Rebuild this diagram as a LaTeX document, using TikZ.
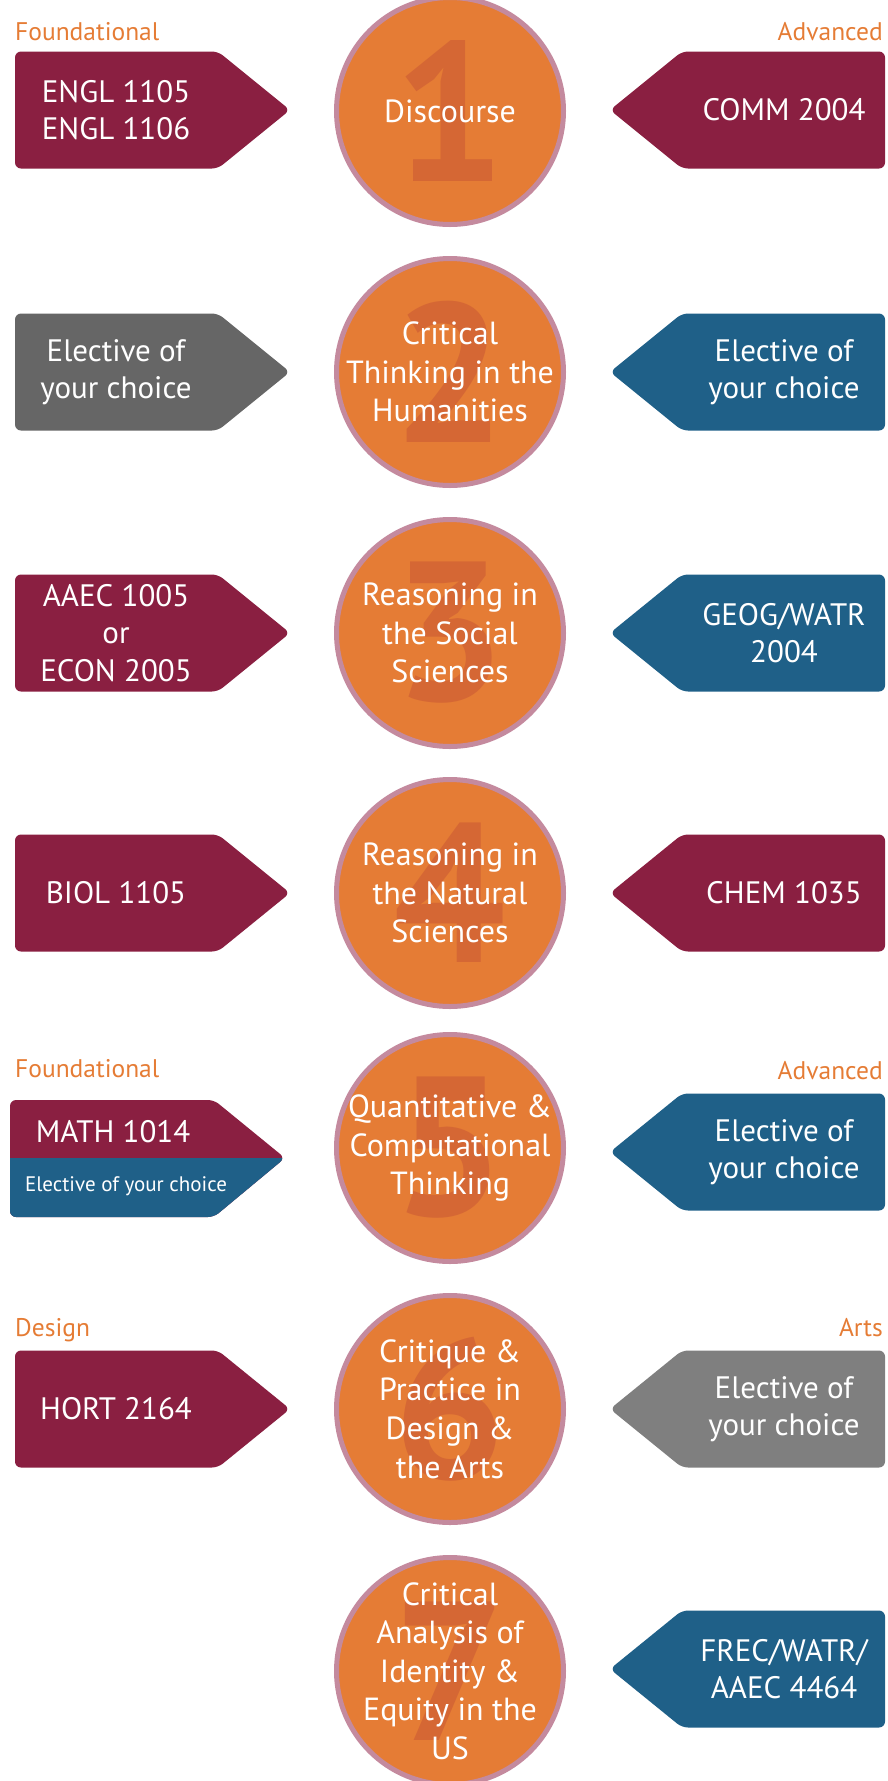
\documentclass[tikz,border=0pt]{standalone}
\usepackage{fontspec}
\setmainfont{PT Sans}

\definecolor{vtorange}{HTML}{E57C35}
\definecolor{vtring}{HTML}{C48A9E}
\definecolor{vtdigit}{HTML}{D56734}
\definecolor{vtmaroon}{HTML}{8A1F41}
\definecolor{vtblue}{HTML}{1F6088}
\definecolor{vtgray}{HTML}{666666}
\definecolor{vtlgray}{HTML}{7F7F7F}

\tikzstyle{area}=[circle, fill=vtorange, draw=vtring, line width=5pt, minimum size=227pt, inner sep=0pt]
\tikzstyle{digit}=[text=vtdigit, font=\fontsize{198}{198}\selectfont\bfseries, inner sep=0pt]
\tikzstyle{area text}=[text=white, align=center, font=\fontsize{32}{38.6}\selectfont, inner sep=0pt]
\tikzstyle{course}=[text=white, align=center, font=\fontsize{31}{37.5}\selectfont, inner sep=0pt]
\tikzstyle{level}=[text=vtorange, font=\fontsize{25.5}{28}\selectfont, inner sep=0pt]

\begin{document}
\begin{tikzpicture}[x=1pt, y=-1pt]
    \useasboundingbox (0,0) rectangle (887,1781);
        % the seven areas
        \foreach \y/\n/\txt in {111/1/{Discourse}, 372/2/{Critical\\Thinking in the\\Humanities},
                633/3/{Reasoning in\\the Social\\Sciences}, 893/4/{Reasoning in\\the Natural\\Sciences},
                1148/5/{Quantitative \&\\Computational\\Thinking}, 1409/6/{Critique \&\\Practice in\\Design \&\\the Arts},
                1671/7/{Critical\\Analysis of\\Identity \&\\Equity in the\\US}}
        {
            \node[area] (area\n) at (450,\y) {};
            \node[digit] (num\n) at (area\n) {\n};
            \node[area text] (title\n) at (area\n) {\txt};
        }
        % foundational courses
        \foreach \y/\col/\name/\txt in {110/vtmaroon/engl/{ENGL 1105\\ENGL 1106}, 372/vtgray/elecA/{Elective of\\your choice},
                633/vtmaroon/econ/{AAEC 1005\\or\\ECON 2005}, 893/vtmaroon/biol/{BIOL 1105}, 1409/vtmaroon/hort/{HORT 2164}}
        {
            \fill[\col, rounded corners=6pt] (15,\y-58.5) -- (218,\y-58.5) -- (290,\y) -- (218,\y+58.5) -- (15,\y+58.5) -- cycle;
            \node[course] (\name) at (116,\y) {\txt};
        }
        % advanced courses
        \foreach \y/\col/\name/\txt in {110/vtmaroon/comm/{COMM 2004}, 372/vtblue/elecB/{Elective of\\your choice},
                633/vtblue/geog/{GEOG/WATR\\2004}, 893/vtmaroon/chem/{CHEM 1035}, 1152/vtblue/elecC/{Elective of\\your choice},
                1409/vtlgray/elecD/{Elective of\\your choice}, 1669/vtblue/frec/{FREC/WATR/\\AAEC 4464}}
        {
            \fill[\col, rounded corners=6pt] (885,\y-58.5) -- (682,\y-58.5) -- (610,\y) -- (682,\y+58.5) -- (885,\y+58.5) -- cycle;
            \node[course] (\name) at (784,\y) {\txt};
        }
        % split tab of area 5
        \fill[vtmaroon, rounded corners=6pt] (10,1100) -- (214,1100) -- (285,1158) -- (214,1217) -- (10,1217) -- cycle;
        \begin{scope}
            \clip (0,1158) rectangle (300,1230);
            \fill[vtblue, rounded corners=6pt] (10,1100) -- (214,1100) -- (285,1158) -- (214,1217) -- (10,1217) -- cycle;
        \end{scope}
        \node[course] (math) at (113,1132) {MATH 1014};
        \node[course, font=\fontsize{21}{24}\selectfont] (elecM) at (126,1186) {Elective of your choice};
        % levels
        \node[level, anchor=base west] (found1) at (15,40) {Foundational};
        \node[level, anchor=base east] (adv1) at (883,40) {Advanced};
        \node[level, anchor=base west] (found5) at (15,1077) {Foundational};
        \node[level, anchor=base east] (adv5) at (883,1079) {Advanced};
        \node[level, anchor=base west] (design) at (15,1336) {Design};
        \node[level, anchor=base east] (arts) at (883,1336) {Arts};
    \end{tikzpicture}
\end{document}
